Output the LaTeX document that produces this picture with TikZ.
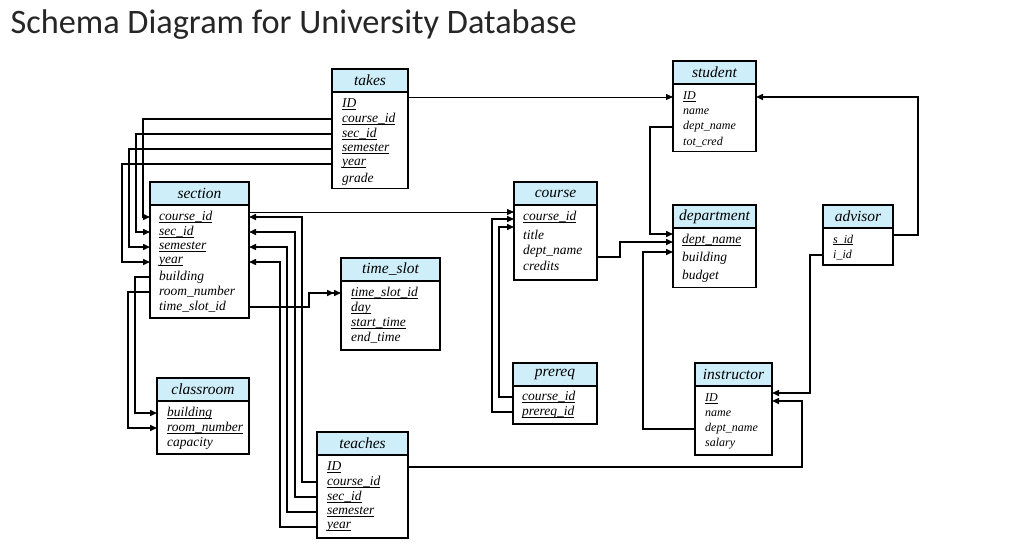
\documentclass[tikz,border=0pt]{standalone}
\usepackage{fontspec}
\setmainfont{Liberation Serif}
\newfontfamily\titlefont{Carlito}
\usetikzlibrary{arrows.meta, positioning}

\definecolor{hdrblue}{RGB}{206,238,250}
\definecolor{titlegray}{RGB}{38,38,38}
\tikzset{
  hdr/.style={draw, line width=1.5pt, fill=hdrblue, anchor=north west, inner sep=0pt, outer sep=0pt,
    minimum height=23pt, font=\fontsize{15.5}{16}\selectfont\itshape},
  tbody/.style={draw, line width=1.5pt, anchor=north west, inner sep=0pt, outer sep=0pt},
  fld/.style={anchor=west, inner sep=0pt, font=\fontsize{13.5}{14}\selectfont\itshape},
  sfld/.style={fld, font=\fontsize{12}{13}\selectfont\itshape},
  link/.style={line width=1.5pt, -{Triangle[length=7pt,width=6pt]}},
  thinlink/.style={line width=0.8pt, -{Triangle[length=7pt,width=6pt]}},
  dlink/.style={line width=1.5pt, -{Triangle[length=7pt,width=6pt]Triangle[length=7pt,width=6pt]}},
}
% key attribute: underline just below the baseline
\newcommand{\pk}[1]{\setbox0\hbox{#1}\rlap{\vrule width\wd0 height -1.3pt depth 2.3pt}\box0}
% name, label, left, top, width, body height
\newcommand{\entity}[6]{%
  \node[hdr, minimum width=#5pt] (#1) at (#3,#4) {#2};
  \node[tbody, minimum width=#5pt, minimum height=#6pt] (#1-b) at (#1.south west) {};
}

\begin{document}
\begin{tikzpicture}[x=1pt, y=-1pt]
  \useasboundingbox[fill=white] (0,0) rectangle (1018,558);
  \node[anchor=base west, text=titlegray, font=\titlefont\fontsize{34.3}{34}\selectfont] (title) at (7,33)
    {Schema Diagram for University Database};

  % tables
  \entity{takes}{takes}{332}{69}{76}{96.5}
  \foreach \k/\lbl/\y in {ID/\pk{ID}/104, cid/\pk{course\_id}/119, sid/\pk{sec\_id}/134,
    sem/\pk{semester}/149, yr/\pk{year}/164, gr/grade/179}
    \node[fld] (takes-\k) at (342,\y) {\lbl};

  \entity{student}{student}{673}{61}{83}{67.5}
  \foreach \k/\lbl/\y in {ID/\pk{ID}/97, name/name/112, dn/dept\_name/127, tc/tot\_cred/142}
    \node[sfld] (student-\k) at (683,\y) {\lbl};

  \entity{section}{section}{150}{182}{99}{113}
  \foreach \k/\lbl/\y in {cid/\pk{course\_id}/217, sid/\pk{sec\_id}/232, sem/\pk{semester}/247,
    yr/\pk{year}/262, bld/building/277, rn/room\_number/292, tsid/time\_slot\_id/307}
    \node[fld] (section-\k) at (159,\y) {\lbl};

  \entity{course}{course}{514}{182}{83}{75}
  \foreach \k/\lbl/\y in {cid/\pk{course\_id}/217, title/title/235, dn/dept\_name/251, cr/credits/266}
    \node[fld] (course-\k) at (523,\y) {\lbl};

  \entity{department}{department}{673}{205}{83}{59.5}
  \foreach \k/\lbl/\y in {dn/\pk{dept\_name}/240, bld/building/258, bud/budget/276}
    \node[fld] (department-\k) at (682,\y) {\lbl};

  \entity{advisor}{advisor}{823}{205}{70}{37}
  \foreach \k/\lbl/\y in {sid/\pk{s\_id}/240, iid/i\_id/255}
    \node[sfld] (advisor-\k) at (833,\y) {\lbl};

  \entity{timeslot}{time\_slot}{341}{258}{99}{69}
  \foreach \k/\lbl/\y in {tsid/\pk{time\_slot\_id}/293, day/\pk{day}/308,
    st/\pk{start\_time}/323, et/end\_time/338}
    \node[fld] (timeslot-\k) at (351,\y) {\lbl};

  \entity{prereq}{prereq}{513}{363}{84}{38}
  \foreach \k/\lbl/\y in {cid/\pk{course\_id}/397, pid/\pk{prereq\_id}/412}
    \node[fld] (prereq-\k) at (522,\y) {\lbl};

  \entity{instructor}{instructor}{695}{363}{77}{69}
  \foreach \k/\lbl/\y in {ID/\pk{ID}/399, name/name/414, dn/dept\_name/429, sal/salary/444}
    \node[sfld] (instructor-\k) at (705,\y) {\lbl};

  \entity{classroom}{classroom}{157}{378}{92}{53}
  \foreach \k/\lbl/\y in {bld/\pk{building}/413, rn/\pk{room\_number}/428, cap/capacity/443}
    \node[fld] (classroom-\k) at (167,\y) {\lbl};

  \entity{teaches}{teaches}{317}{432}{91}{83}
  \foreach \k/\lbl/\y in {ID/\pk{ID}/467, cid/\pk{course\_id}/482, sid/\pk{sec\_id}/497,
    sem/\pk{semester}/512, yr/\pk{year}/527}
    \node[fld] (teaches-\k) at (327,\y) {\lbl};

  % takes
  \draw[thinlink] (takes-b.east |- student-ID) -- (student-b.west |- student-ID);
  \foreach \k/\d in {cid/7, sid/14, sem/21, yr/28}
    \draw[link] (takes-b.west |- takes-\k) -| ([xshift=-\d pt]section-b.west |- section-\k)
      -- (section-b.west |- section-\k);

  % teaches
  \foreach \k/\d in {cid/53, sid/46, sem/38, yr/31}
    \draw[link] (teaches-b.west |- teaches-\k) -| ([xshift=\d pt]section-b.east |- section-\k)
      -- (section-b.east |- section-\k);
  \draw[link] (teaches-b.east |- teaches-ID) -| ([xshift=30pt,yshift=-2pt]instructor-b.east |- instructor-ID)
    -- ([yshift=-2pt]instructor-b.east |- instructor-ID);

  % section
  \draw[thinlink] ([yshift=5pt]section-b.east |- section-cid) -- ([yshift=5pt]course-b.west |- course-cid);
  \draw[link] (section-b.west |- section-bld) -| ([xshift=-22pt]classroom-b.west |- classroom-bld)
    -- (classroom-b.west |- classroom-bld);
  \draw[link] (section-b.west |- section-rn) -| ([xshift=-29pt]classroom-b.west |- classroom-rn)
    -- (classroom-b.west |- classroom-rn);
  \draw[dlink] (section-b.east |- section-tsid) -| ([xshift=-32pt]timeslot-b.west |- timeslot-tsid)
    -- (timeslot-b.west |- timeslot-tsid);

  % prereq
  \draw[link] (prereq-b.west |- prereq-cid) -| ([xshift=-15pt,yshift=-10pt]course-b.west |- course-cid)
    -- ([yshift=-10pt]course-b.west |- course-cid);
  \draw[link] (prereq-b.west |- prereq-pid) -| ([xshift=-22pt,yshift=-2pt]course-b.west |- course-cid)
    -- ([yshift=-2pt]course-b.west |- course-cid);

  % department
  \draw[link] (student-b.west |- student-dn) -| ([xshift=-23pt,yshift=6pt]department-b.west |- department-dn)
    -- ([yshift=6pt]department-b.west |- department-dn);
  \draw[link] ([yshift=-6pt]course-b.east |- course-dn) -| ([xshift=-53pt,yshift=-2pt]department-b.west |- department-dn)
    -- ([yshift=-2pt]department-b.west |- department-dn);
  \draw[link] (instructor-b.west |- instructor-dn) -| ([xshift=-30pt,yshift=-12pt]department-b.west |- department-dn)
    -- ([yshift=-12pt]department-b.west |- department-dn);

  % advisor
  \draw[link] ([yshift=5pt]advisor-b.east |- advisor-sid) -| ([xshift=25pt]advisor-b.east |- student-ID)
    -- (student-b.east |- student-ID);
  \draw[link] (advisor-b.west |- advisor-iid) -| ([xshift=-13pt,yshift=6pt]advisor-b.west |- instructor-ID)
    -- ([yshift=6pt]instructor-b.east |- instructor-ID);
\end{tikzpicture}
\end{document}
